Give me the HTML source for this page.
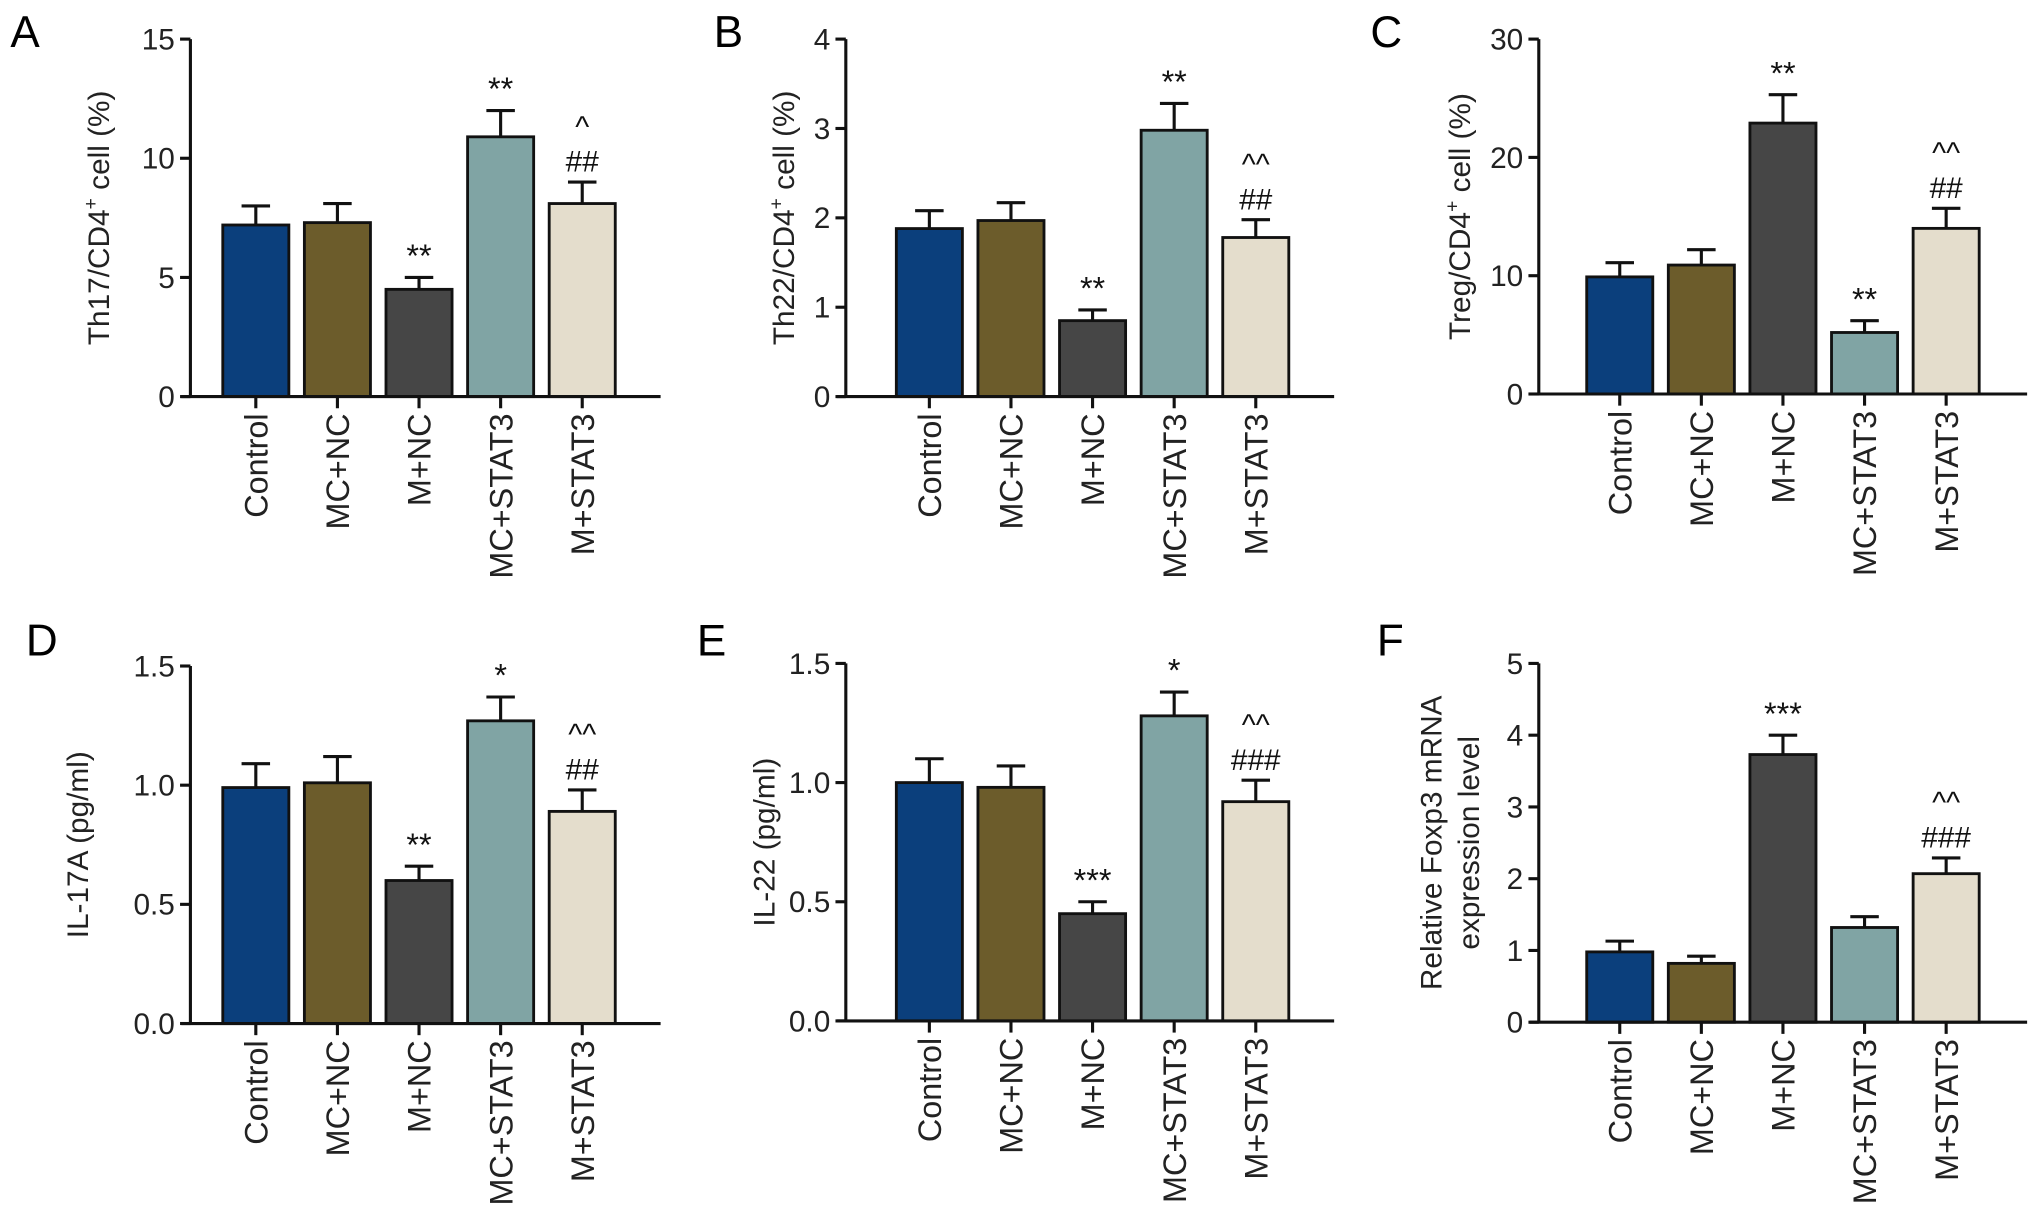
<!DOCTYPE html>
<html><head><meta charset="utf-8"><style>
html,body{margin:0;padding:0;background:#fff}
svg{display:block;font-family:"Liberation Sans",Arial,sans-serif}
</style></head><body>
<svg id="fig" width="2031" height="1231" viewBox="0 0 1568 950" xmlns="http://www.w3.org/2000/svg"></svg>
<script>
const categories = ["Control","MC+NC","M+NC","MC+STAT3","M+STAT3"];
const colors = ["#0b3f7c","#6c5c2b","#464646","#80a4a4","#e4ddcc"];
const aValues = [7.2,7.3,4.5,10.9,8.1];
const aErrors = [0.8,0.8,0.5,1.1,0.9];
const aTicks = ["0","5","10","15"];
const aAnnot = [[],[],["**"],["**"],["##","^"]];
const bValues = [1.88,1.97,0.85,2.98,1.78];
const bErrors = [0.2,0.2,0.12,0.3,0.2];
const bTicks = ["0","1","2","3","4"];
const bAnnot = [[],[],["**"],["**"],["##","^^"]];
const cValues = [9.9,10.9,22.9,5.2,14.0];
const cErrors = [1.2,1.3,2.4,1.0,1.7];
const cTicks = ["0","10","20","30"];
const cAnnot = [[],[],["**"],["**"],["##","^^"]];
const dValues = [0.99,1.01,0.60,1.27,0.89];
const dErrors = [0.10,0.11,0.06,0.10,0.09];
const dTicks = ["0.0","0.5","1.0","1.5"];
const dAnnot = [[],[],["**"],["*"],["##","^^"]];
const eValues = [1.0,0.98,0.45,1.28,0.92];
const eErrors = [0.10,0.09,0.05,0.10,0.09];
const eTicks = ["0.0","0.5","1.0","1.5"];
const eAnnot = [[],[],["***"],["*"],["###","^^"]];
const fValues = [0.98,0.82,3.73,1.32,2.07];
const fErrors = [0.15,0.10,0.27,0.15,0.22];
const fTicks = ["0","1","2","3","4","5"];
const fAnnot = [[],[],["***"],[],["###","^^"]];

const NS="http://www.w3.org/2000/svg";
const svg=document.getElementById('fig');
function mk(tag,attrs,parent,txt){const e=document.createElementNS(NS,tag);for(const k in attrs)e.setAttribute(k,attrs[k]);if(txt!==undefined)e.textContent=txt;(parent||svg).appendChild(e);return e;}

const panels=[
 {id:'a',letter:'A',lx:8,ly:36,ax:147,top:30,bot:306,x0:172,xend:510,vals:aValues,errs:aErrors,ticks:aTicks,annot:aAnnot,title:["Th17/CD4<sup>+</sup> cell (%)"],tx:[84]},
 {id:'b',letter:'B',lx:551,ly:36,ax:653,top:30,bot:306,x0:692,xend:1030,vals:bValues,errs:bErrors,ticks:bTicks,annot:bAnnot,title:["Th22/CD4<sup>+</sup> cell (%)"],tx:[613]},
 {id:'c',letter:'C',lx:1058,ly:36,ax:1188,top:30,bot:304,x0:1225,xend:1565,vals:cValues,errs:cErrors,ticks:cTicks,annot:cAnnot,title:["Treg/CD4<sup>+</sup> cell (%)"],tx:[1135]},
 {id:'d',letter:'D',lx:20,ly:506,ax:147,top:514,bot:790,x0:172,xend:510,vals:dValues,errs:dErrors,ticks:dTicks,annot:dAnnot,title:["IL-17A (pg/ml)"],tx:[68]},
 {id:'e',letter:'E',lx:538,ly:506,ax:653,top:512,bot:788,x0:692,xend:1030,vals:eValues,errs:eErrors,ticks:eTicks,annot:eAnnot,title:["IL-22 (pg/ml)"],tx:[598]},
 {id:'f',letter:'F',lx:1063,ly:506,ax:1188,top:512,bot:789,x0:1225,xend:1565,vals:fValues,errs:fErrors,ticks:fTicks,annot:fAnnot,title:["Relative Foxp3 mRNA","expression level"],tx:[1113,1142]}
];

panels.forEach(p=>{
 const g=mk('g',{});
 
 
 const tmax=parseFloat(p.ticks[p.ticks.length-1]);
 const y=v=>p.bot-(v/tmax)*(p.bot-p.top);
 const step=63, bw=51;
 const cx=i=>p.x0+bw/2+i*step;
 const L=mk('text',{x:p.lx,y:p.ly,'font-size':34},g,p.letter);
 
 
 const ya=mk('line',{x1:p.ax,y1:p.top,x2:p.ax,y2:p.bot,stroke:'#111','stroke-width':2.4},g);
 
 
 p.ticks.forEach(t=>{
  const ty=y(parseFloat(t));
  mk('line',{x1:p.ax-8,y1:ty,x2:p.ax,y2:ty,stroke:'#111','stroke-width':2.4},g);
  const tl=mk('text',{x:p.ax-12,y:ty+8,'font-size':23,'text-anchor':'end',fill:'#222'},g,t);
  
  
 });
 p.vals.forEach((v,i)=>{
  const e=p.errs[i], yt=y(v), ye=y(v+e), c=cx(i);
  mk('line',{x1:c,y1:yt,x2:c,y2:ye,stroke:'#111','stroke-width':2.4},g);
  mk('line',{x1:c-11,y1:ye,x2:c+11,y2:ye,stroke:'#111','stroke-width':2.4},g);
  const r=mk('rect',{x:c-bw/2,y:yt,width:bw,height:p.bot-yt,fill:colors[i],stroke:'#111','stroke-width':2.2},g);
  
  
  p.annot[i].forEach((s,k)=>{
   const at=mk('text',{x:c,y:ye-8-k*27,'font-size':s.indexOf('*')>=0?25:23,'text-anchor':'middle',fill:'#111'},g,s);
   
   
  });
  mk('line',{x1:c,y1:p.bot,x2:c,y2:p.bot+9,stroke:'#111','stroke-width':2.4},g);
  const xl=mk('text',{x:0,y:0,'font-size':25,'text-anchor':'end',fill:'#222',transform:`translate(${c+9},${p.bot+13}) rotate(-90)`},g,categories[i]);
  
  
 });
 const xa=mk('line',{x1:p.ax-7,y1:p.bot,x2:p.xend,y2:p.bot,stroke:'#111','stroke-width':2.4},g);
 
 
 const mid=(p.top+p.bot)/2;
 p.title.forEach((t,k)=>{
  const tt=mk('text',{x:0,y:0,'font-size':23,'text-anchor':'middle',fill:'#222',transform:`translate(${p.tx[k]},${mid}) rotate(-90)`},g);
  
  
  const parts=t.split(/<sup>|<\/sup>/);
  parts.forEach((s,j)=>{
   if(!s)return;
   mk('tspan',j%2?{'font-size':15,dy:-9}:(j>0?{dy:9}:{}),tt,s);
  });
 });
});
</script>
</body></html>
